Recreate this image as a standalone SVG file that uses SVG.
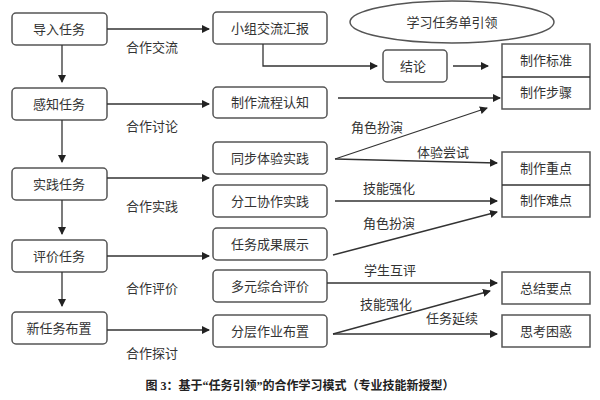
<svg xmlns="http://www.w3.org/2000/svg" width="600" height="400" viewBox="0 0 600 400">
<defs>
<style>
.b{fill:#fff;stroke:#555;stroke-width:1.5}
.t{font-family:"Liberation Sans","Noto Sans CJK SC",sans-serif;font-size:13px;fill:#333;text-anchor:middle}
.l{stroke:#333;stroke-width:1.3;fill:none}
.a{marker-end:url(#ar)}
</style>
<marker id="ar" markerWidth="8" markerHeight="8" refX="7" refY="4" orient="auto" markerUnits="userSpaceOnUse"><path d="M0,0 L8,4 L0,8z" fill="#222"/></marker>
</defs>
<rect width="600" height="400" fill="#fff"/>
<g id="left">
<g id="n1"><rect class="b" x="12" y="13" width="95" height="32" rx="4"/><text class="t" x="59" y="34">导入任务</text></g>
<g id="n2"><rect class="b" x="12" y="88" width="95" height="32" rx="4"/><text class="t" x="59" y="109">感知任务</text></g>
<g id="n3"><rect class="b" x="12" y="168" width="95" height="32" rx="4"/><text class="t" x="59" y="189">实践任务</text></g>
<g id="n4"><rect class="b" x="12" y="240" width="95" height="32" rx="4"/><text class="t" x="59" y="261">评价任务</text></g>
<g id="n5"><rect class="b" x="12" y="312" width="95" height="32" rx="4"/><text class="t" x="59" y="333">新任务布置</text></g>
</g>
<g id="mid">
<g id="m1"><rect class="b" x="213" y="12" width="114" height="32" rx="4"/><text class="t" x="270" y="33">小组交流汇报</text></g>
<g id="m2"><rect class="b" x="213" y="87" width="114" height="31" rx="4"/><text class="t" x="270" y="107">制作流程认知</text></g>
<g id="m3"><rect class="b" x="213" y="142" width="114" height="32" rx="4"/><text class="t" x="270" y="163">同步体验实践</text></g>
<g id="m4"><rect class="b" x="213" y="185" width="114" height="32" rx="4"/><text class="t" x="270" y="206">分工协作实践</text></g>
<g id="m5"><rect class="b" x="213" y="228" width="114" height="32" rx="4"/><text class="t" x="270" y="249">任务成果展示</text></g>
<g id="m6"><rect class="b" x="213" y="270" width="114" height="32" rx="4"/><text class="t" x="270" y="291">多元综合评价</text></g>
<g id="m7"><rect class="b" x="213" y="315" width="114" height="32" rx="4"/><text class="t" x="270" y="336">分层作业布置</text></g>
</g>
<g id="ell"><ellipse class="b" cx="452" cy="22" rx="102" ry="21"/><text class="t" x="452" y="27">学习任务单引领</text></g>
<g id="jl"><rect class="b" x="383" y="50" width="64" height="32" rx="4"/><text class="t" x="413" y="71">结论</text></g>
<g id="right">
<g id="r1"><rect class="b" x="502" y="44" width="88" height="65"/><line class="l" x1="502" y1="77" x2="590" y2="77"/><text class="t" x="546" y="65">制作标准</text><text class="t" x="546" y="97">制作步骤</text></g>
<g id="r2"><rect class="b" x="502" y="152" width="88" height="65"/><line class="l" x1="502" y1="185" x2="590" y2="185"/><text class="t" x="546" y="173">制作重点</text><text class="t" x="546" y="205">制作难点</text></g>
<g id="r3"><rect class="b" x="502" y="272" width="88" height="32"/><text class="t" x="546" y="293">总结要点</text></g>
<g id="r4"><rect class="b" x="502" y="315" width="88" height="32"/><text class="t" x="546" y="336">思考困惑</text></g>
</g>
<g id="connectors">
<line class="l a" x1="62" y1="45" x2="62" y2="82"/>
<line class="l a" x1="62" y1="120" x2="62" y2="162"/>
<line class="l a" x1="62" y1="200" x2="62" y2="234"/>
<line class="l a" x1="62" y1="272" x2="62" y2="306"/>
<line class="l a" x1="107" y1="29" x2="209" y2="29"/>
<line class="l a" x1="107" y1="104" x2="209" y2="104"/>
<line class="l a" x1="107" y1="178" x2="209" y2="178"/>
<line class="l a" x1="107" y1="256" x2="209" y2="256"/>
<line class="l a" x1="107" y1="330" x2="209" y2="330"/>
<polyline class="l a" points="263,44 263,66 377,66"/>
<line class="l a" x1="453" y1="66" x2="488" y2="66"/>
<line class="l a" x1="338" y1="98" x2="500" y2="98"/>
<line class="l a" x1="335" y1="159" x2="487" y2="108"/>
<line class="l a" x1="335" y1="159" x2="497" y2="163"/>
<line class="l a" x1="335" y1="201" x2="497" y2="201"/>
<line class="l a" x1="333" y1="255" x2="497" y2="212"/>
<line class="l a" x1="327" y1="283" x2="497" y2="283"/>
<line class="l a" x1="333" y1="334" x2="490" y2="291"/>
<line class="l a" x1="333" y1="334" x2="497" y2="334"/>
</g>
<g id="labels">
<text class="t" x="152" y="52">合作交流</text>
<text class="t" x="152" y="131">合作讨论</text>
<text class="t" x="152" y="211">合作实践</text>
<text class="t" x="152" y="293">合作评价</text>
<text class="t" x="152" y="358">合作探讨</text>
<text class="t" x="377" y="132">角色扮演</text>
<text class="t" x="443" y="157">体验尝试</text>
<text class="t" x="389" y="193">技能强化</text>
<text class="t" x="389" y="228">角色扮演</text>
<text class="t" x="390" y="275">学生互评</text>
<text class="t" x="386" y="309">技能强化</text>
<text class="t" x="452" y="323">任务延续</text>
</g>
<text x="300" y="390" style="font-family:'Liberation Serif','Noto Sans CJK SC',serif;font-size:12px;font-weight:bold;text-anchor:middle;fill:#222">图 3：基于“任务引领”的合作学习模式（专业技能新授型）</text>
</svg>
